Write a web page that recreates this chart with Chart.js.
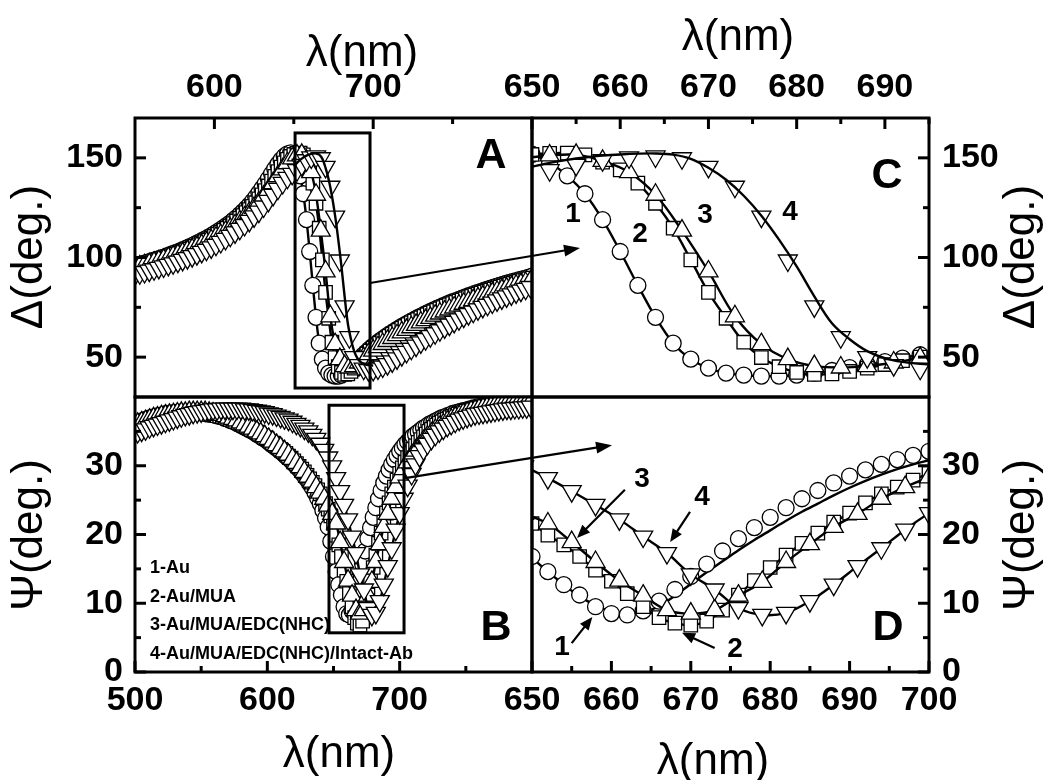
<!DOCTYPE html>
<html>
<head>
<meta charset="utf-8">
<title>SPR ellipsometry spectra: Δ and Ψ vs wavelength</title>
<script src="https://cdn.jsdelivr.net/npm/chart.js@4.4.1/dist/chart.umd.min.js"></script>
<style>
  html, body { margin: 0; padding: 0; background: #fff; }
  #stage { position: relative; width: 1052px; height: 780px; overflow: hidden; background: #fff; }
  #stage canvas { position: absolute; left: 0; top: 0; }
</style>
</head>
<body>
<div id="stage">
  <canvas id="panelA" width="1052" height="780"></canvas>
  <canvas id="panelC" width="1052" height="780"></canvas>
  <canvas id="panelB" width="1052" height="780"></canvas>
  <canvas id="panelD" width="1052" height="780"></canvas>
</div>
<script>
// ---------------------------------------------------------------------------
// Samples
const seriesNames = ['1-Au', '2-Au/MUA', '3-Au/MUA/EDC(NHC)', '4-Au/MUA/EDC(NHC)/Intact-Ab'];

// Wavelength grids (nm): samples 1 and 2 every 2 nm, samples 3 and 4 every 3 nm
const deltaStartEven = 550, deltaStartTri = 550;
const psiStartEven = 500, psiStartTri = 502;
const stepEven = 2, stepTri = 3;
const fitStart = 650, fitStep = 2;

// Delta (deg), sample 1, 550..800 nm
const delta1 = [
  96.0, 96.4, 96.8, 97.2, 97.7, 98.2, 98.7, 99.2, 99.7, 100.2,
  100.8, 101.4, 102.0, 102.6, 103.2, 103.9, 104.6, 105.3, 106.0, 106.8,
  107.6, 108.4, 109.2, 110.1, 111.0, 112.0, 113.0, 114.0, 115.1, 116.2,
  117.4, 118.7, 120.0, 121.5, 123.0, 124.6, 126.3, 128.2, 130.2, 132.4,
  134.7, 137.0, 139.5, 142.0, 144.5, 146.8, 149.0, 150.8, 152.0, 152.5,
  151.8, 147.5, 141.0, 132.0, 119.0, 103.0, 86.0, 70.0, 57.0, 49.0,
  44.5, 42.0, 41.0, 40.5, 40.5, 41.0, 42.0, 43.3, 44.7, 46.2,
  47.8, 49.5, 51.2, 52.7, 54.2, 55.5, 56.8, 58.0, 59.2, 60.3,
  61.4, 62.4, 63.4, 64.4, 65.4, 66.3, 67.2, 68.1, 69.0, 69.8,
  70.6, 71.4, 72.2, 73.0, 73.7, 74.4, 75.1, 75.8, 76.5, 77.2,
  77.8, 78.4, 79.0, 79.6, 80.2, 80.8, 81.4, 82.0, 82.5, 83.0,
  83.6, 84.1, 84.6, 85.1, 85.6, 86.1, 86.6, 87.1, 87.5, 88.0,
  88.4, 88.9, 89.3, 89.7, 90.2, 90.6
];
// Delta (deg), sample 2, 550..800 nm
const delta2 = [
  95.2, 95.6, 96.0, 96.4, 96.8, 97.3, 97.8, 98.3, 98.8, 99.3,
  99.8, 100.4, 101.0, 101.6, 102.2, 102.8, 103.5, 104.2, 104.9, 105.6,
  106.4, 107.2, 108.0, 108.8, 109.7, 110.6, 111.6, 112.6, 113.6, 114.7,
  115.8, 117.0, 118.3, 119.6, 121.0, 122.5, 124.0, 125.7, 127.5, 129.4,
  131.4, 133.6, 135.9, 138.3, 140.7, 143.1, 145.4, 147.5, 149.3, 150.7,
  151.7, 152.3, 152.4, 151.5, 147.8, 144.0, 137.3, 127.2, 114.7, 98.8,
  82.5, 69.5, 57.5, 49.8, 45.2, 42.3, 41.3, 41.6, 42.8, 44.5,
  46.3, 48.2, 50.0, 51.6, 53.1, 54.5, 55.8, 57.0, 58.2, 59.3,
  60.4, 61.5, 62.5, 63.5, 64.5, 65.4, 66.3, 67.2, 68.1, 68.9,
  69.7, 70.5, 71.3, 72.1, 72.8, 73.5, 74.2, 74.9, 75.6, 76.3,
  76.9, 77.5, 78.1, 78.7, 79.3, 79.9, 80.5, 81.1, 81.6, 82.1,
  82.7, 83.2, 83.7, 84.2, 84.7, 85.2, 85.7, 86.2, 86.6, 87.1,
  87.5, 88.0, 88.4, 88.8, 89.3, 89.7
];
// Delta (deg), sample 3, 550..799 nm
const delta3 = [
  94.9, 95.5, 96.1, 96.7, 97.4, 98.1, 98.8, 99.6, 100.4, 101.2,
  102.1, 103.1, 104.1, 105.1, 106.2, 107.4, 108.6, 109.9, 111.3, 112.8,
  114.4, 116.2, 118.1, 120.1, 122.4, 124.9, 127.6, 130.6, 133.8, 137.3,
  140.8, 144.2, 147.3, 149.7, 151.2, 151.5, 148.5, 142.8, 131.5, 113.5,
  93.0, 70.5, 56.5, 49.0, 45.5, 44.8, 45.5, 47.3, 49.5, 51.5,
  53.3, 55.0, 56.6, 58.1, 59.6, 61.0, 62.4, 63.7, 65.0, 66.2,
  67.4, 68.6, 69.7, 70.8, 71.9, 72.9, 73.9, 74.9, 75.9, 76.8,
  77.7, 78.6, 79.5, 80.4, 81.2, 82.0, 82.8, 83.6, 84.4, 85.1,
  85.8, 86.5, 87.2, 87.9
];
// Delta (deg), sample 4, 550..799 nm
const delta4 = [
  91.5, 92.1, 92.7, 93.4, 94.1, 94.8, 95.5, 96.3, 97.1, 97.9,
  98.8, 99.7, 100.7, 101.7, 102.8, 103.9, 105.1, 106.4, 107.8, 109.3,
  110.9, 112.6, 114.4, 116.3, 118.4, 120.6, 123.0, 125.6, 128.4, 131.4,
  134.5, 137.4, 140.0, 142.0, 143.8, 146.5, 148.8, 150.2, 150.7, 149.8,
  145.5, 135.5, 120.5, 98.5, 75.5, 60.0, 50.0, 46.0, 44.2, 43.5,
  43.6, 44.3, 45.3, 46.5, 47.9, 49.4, 51.0, 52.6, 54.2, 55.8,
  57.4, 59.0, 60.5, 62.0, 63.5, 64.9, 66.3, 67.7, 69.0, 70.3,
  71.6, 72.8, 74.0, 75.2, 76.3, 77.4, 78.5, 79.5, 80.5, 81.5,
  82.5, 83.4, 84.3, 85.2
];
// Fitted Delta (deg), sample 4, 650..700 nm
const fitDelta4 = [
  145.6, 147.5, 149.0, 150.2, 151.1, 151.7, 152.1, 152.2, 151.6, 149.5,
  145.0, 139.0, 131.0, 121.0, 109.0, 95.5, 80.5, 67.0, 59.0, 53.0,
  49.5, 47.6, 46.6, 46.1, 45.9, 45.8
];

// Psi (deg), sample 1, 500..800 nm
const psi1 = [
  36.0, 36.2, 36.4, 36.6, 36.7, 36.9, 37.0, 37.1, 37.2, 37.3,
  37.4, 37.5, 37.6, 37.6, 37.7, 37.7, 37.8, 37.8, 37.8, 37.8,
  37.8, 37.8, 37.8, 37.8, 37.8, 37.7, 37.7, 37.6, 37.5, 37.5,
  37.4, 37.3, 37.2, 37.1, 36.9, 36.8, 36.6, 36.5, 36.3, 36.1,
  35.9, 35.7, 35.5, 35.3, 35.1, 34.9, 34.6, 34.4, 34.1, 33.9,
  33.6, 33.3, 33.0, 32.7, 32.4, 32.1, 31.8, 31.4, 31.1, 30.7,
  30.3, 29.9, 29.5, 29.0, 28.5, 28.0, 27.4, 26.8, 26.1, 25.3,
  24.5, 23.5, 22.4, 21.1, 19.0, 16.8, 14.6, 12.7, 11.2, 9.5,
  8.5, 8.3, 8.9, 10.3, 12.0, 13.9, 15.7, 17.6, 19.4, 21.0,
  22.5, 23.9, 25.2, 26.4, 27.5, 28.5, 29.4, 30.2, 30.9, 31.5,
  32.1, 32.6, 33.1, 33.5, 33.9, 34.3, 34.6, 34.9, 35.2, 35.5,
  35.7, 36.0, 36.2, 36.4, 36.6, 36.8, 37.0, 37.1, 37.3, 37.4,
  37.6, 37.7, 37.8, 37.9, 38.0, 38.1, 38.2, 38.3, 38.4, 38.5,
  38.6, 38.6, 38.7, 38.8, 38.8, 38.9, 38.9, 39.0, 39.0, 39.1,
  39.1, 39.2, 39.2, 39.2, 39.3, 39.3, 39.3, 39.4, 39.4, 39.4,
  39.5
];
// Psi (deg), sample 2, 500..800 nm
const psi2 = [
  35.8, 36.0, 36.2, 36.4, 36.5, 36.7, 36.8, 36.9, 37.0, 37.1,
  37.2, 37.3, 37.4, 37.5, 37.5, 37.6, 37.6, 37.7, 37.7, 37.7,
  37.7, 37.7, 37.7, 37.7, 37.7, 37.7, 37.6, 37.6, 37.5, 37.5,
  37.4, 37.3, 37.2, 37.1, 37.0, 36.9, 36.7, 36.6, 36.4, 36.3,
  36.1, 35.9, 35.7, 35.5, 35.3, 35.1, 34.9, 34.6, 34.4, 34.1,
  33.9, 33.6, 33.3, 33.0, 32.7, 32.4, 32.1, 31.8, 31.4, 31.1,
  30.7, 30.3, 29.9, 29.5, 29.1, 28.6, 28.1, 27.6, 27.1, 26.5,
  25.9, 25.2, 24.5, 23.7, 22.7, 21.6, 19.9, 18.5, 16.8, 14.8,
  13.2, 11.4, 9.5, 7.9, 7.1, 6.8, 7.4, 9.0, 11.2, 13.3,
  15.2, 17.0, 18.7, 20.2, 21.8, 23.1, 24.6, 25.9, 26.9, 27.9,
  28.9, 29.7, 30.5, 31.2, 31.8, 32.4, 32.9, 33.4, 33.8, 34.2,
  34.6, 35.0, 35.3, 35.6, 35.9, 36.2, 36.4, 36.6, 36.8, 37.0,
  37.2, 37.3, 37.5, 37.6, 37.7, 37.9, 38.0, 38.1, 38.2, 38.3,
  38.4, 38.5, 38.5, 38.6, 38.7, 38.7, 38.8, 38.8, 38.9, 38.9,
  39.0, 39.0, 39.0, 39.1, 39.1, 39.1, 39.2, 39.2, 39.2, 39.3,
  39.3
];
// Psi (deg), sample 3, 502..799 nm
const psi3 = [
  36.1, 36.3, 36.5, 36.7, 36.9, 37.0, 37.2, 37.3, 37.4, 37.5,
  37.6, 37.7, 37.7, 37.8, 37.8, 37.8, 37.8, 37.8, 37.7, 37.6,
  37.5, 37.4, 37.2, 37.0, 36.8, 36.6, 36.3, 36.0, 35.7, 35.4,
  35.0, 34.7, 34.3, 33.9, 33.5, 33.0, 32.6, 32.1, 31.6, 31.0,
  30.4, 29.8, 29.1, 28.4, 27.7, 26.9, 26.1, 25.2, 24.2, 23.0,
  21.6, 18.9, 16.0, 13.3, 11.1, 9.0, 8.5, 9.0, 11.1, 13.1,
  16.0, 18.6, 21.1, 23.0, 25.2, 26.9, 28.3, 29.5, 30.5, 31.4,
  32.2, 32.9, 33.6, 34.2, 34.7, 35.2, 35.6, 36.0, 36.4, 36.7,
  37.0, 37.2, 37.5, 37.7, 37.9, 38.0, 38.2, 38.3, 38.4, 38.5,
  38.6, 38.7, 38.8, 38.9, 38.9, 39.0, 39.0, 39.1, 39.1, 39.2
];
// Psi (deg), sample 4, 502..799 nm
const psi4 = [
  34.9, 35.1, 35.3, 35.6, 35.8, 36.0, 36.2, 36.4, 36.6, 36.8,
  37.0, 37.2, 37.4, 37.5, 37.7, 37.8, 37.9, 38.0, 38.1, 38.2,
  38.2, 38.3, 38.3, 38.3, 38.3, 38.3, 38.3, 38.2, 38.2, 38.1,
  38.0, 37.9, 37.8, 37.6, 37.5, 37.3, 37.1, 36.9, 36.7, 36.4,
  36.1, 35.8, 35.4, 35.0, 34.5, 33.9, 33.2, 32.3, 31.2, 29.9,
  28.2, 26.3, 24.3, 22.2, 19.7, 17.3, 14.2, 12.0, 9.3, 8.3,
  8.6, 10.3, 12.7, 15.4, 18.0, 20.7, 23.1, 25.2, 27.1, 28.8,
  30.2, 31.4, 32.4, 33.2, 33.9, 34.5, 35.0, 35.4, 35.8, 36.1,
  36.4, 36.7, 36.9, 37.1, 37.3, 37.5, 37.6, 37.7, 37.8, 37.9,
  38.0, 38.1, 38.2, 38.3, 38.3, 38.4, 38.4, 38.5, 38.5, 38.6
];
// Fitted Psi (deg), sample 1, 650..700 nm
const fitPsi1 = [
  16.6, 14.6, 12.7, 11.0, 9.7, 8.8, 8.4, 8.6, 9.6, 11.1,
  12.8, 14.5, 16.1, 17.7, 19.2, 20.6, 22.0, 23.3, 24.5, 25.7,
  26.8, 27.8, 28.7, 29.5, 30.2, 30.8
];

// Axis ticks (labelled / minor)
const ticksLambdaWideTop = [600, 700], minorLambdaWideTop = [650, 750];
const ticksLambdaWideBottom = [500, 600, 700], minorLambdaWideBottom = [550, 650, 750];
const ticksLambdaZoomTop = [650, 660, 670, 680, 690], minorLambdaZoomTop = [655, 665, 675, 685, 695];
const ticksLambdaZoomBottom = [650, 660, 670, 680, 690, 700], minorLambdaZoomBottom = [655, 665, 675, 685, 695];
const ticksDelta = [50, 100, 150], minorDelta = [75, 125];
const ticksPsi = [0, 10, 20, 30], minorPsi = [5, 15, 25, 35];

// ---------------------------------------------------------------------------
const FONT = '"Liberation Sans", Arial, Helvetica, sans-serif';
const W = 1052, H = 780;
const FRAME = { left: 135, mid: 532, right: 929, top: 118, split: 397, bottom: 672 };
const charts = {};

const grid = (start, step, n) => Array.from({ length: n }, (_, i) => start + step * i);

const markerStyles = [
  { shape: 'circle', rot: 0, r: 8 },
  { shape: 'rect', rot: 0, r: 9.5 },
  { shape: 'triangle', rot: 0, r: 11 },
  { shape: 'triangle', rot: 180, r: 11 }
];

function seriesData(start, step, values) {
  const xs = grid(start, step, values.length);
  return xs.map((x, i) => ({ x, y: values[i] }));
}

const deltaSet = {
  samples: [
    seriesData(deltaStartEven, stepEven, delta1),
    seriesData(deltaStartEven, stepEven, delta2),
    seriesData(deltaStartTri, stepTri, delta3),
    seriesData(deltaStartTri, stepTri, delta4)
  ],
  fitted: { 3: seriesData(fitStart, fitStep, fitDelta4) },
  fitOnTop: true
};
const psiSet = {
  samples: [
    seriesData(psiStartEven, stepEven, psi1),
    seriesData(psiStartEven, stepEven, psi2),
    seriesData(psiStartTri, stepTri, psi3),
    seriesData(psiStartTri, stepTri, psi4)
  ],
  fitted: { 0: seriesData(fitStart, fitStep, fitPsi1) },
  fitOnTop: false
};

// Markers for each sample; a sample with a fitted curve gets that curve instead of a connecting line
function datasets(set) {
  const n = set.samples.length;
  const out = set.samples.map((data, i) => ({
    label: seriesNames[i],
    data,
    showLine: !set.fitted[i],
    borderColor: '#000',
    borderWidth: 2.4,
    tension: 0.35,
    pointStyle: markerStyles[i].shape,
    pointRotation: markerStyles[i].rot,
    pointRadius: markerStyles[i].r,
    pointHoverRadius: markerStyles[i].r,
    pointBackgroundColor: '#fff',
    pointBorderColor: '#000',
    pointBorderWidth: 1.3,
    order: n - i
  }));
  Object.keys(set.fitted).forEach(k => {
    const i = Number(k);
    out.push({
      label: seriesNames[i] + ' fit',
      data: set.fitted[k],
      showLine: true,
      borderColor: '#000',
      borderWidth: 2.4,
      tension: 0.35,
      pointRadius: 0,
      pointHoverRadius: 0,
      order: set.fitOnTop ? 0 : n - i + 0.5
    });
  });
  return out;
}

const tickFont = { family: FONT, size: 34, weight: 'bold', lineHeight: 1.2 };

function axis(pos, min, max, labelled, minor, size, pad) {
  const all = labelled.concat(minor).sort((a, b) => a - b);
  return {
    type: 'linear', position: pos, min, max,
    grid: { display: false, drawTicks: false },
    border: { display: false },
    afterBuildTicks: s => { s.ticks = all.map(v => ({ value: v })); },
    ticks: {
      autoSkip: false, maxRotation: 0, minRotation: 0, padding: pad, color: '#000', font: tickFont,
      callback: v => (labelled.includes(v) ? String(v) : '')
    },
    afterFit: s => {
      if (pos === 'top' || pos === 'bottom') s.height = size; else s.width = size;
      s.paddingLeft = 0; s.paddingRight = 0; s.paddingTop = 0; s.paddingBottom = 0;
    }
  };
}

function arrow(ctx, x1, y1, x2, y2, head, half) {
  const ang = Math.atan2(y2 - y1, x2 - x1);
  const c = Math.cos(ang), s = Math.sin(ang);
  ctx.beginPath();
  ctx.moveTo(x1, y1);
  ctx.lineTo(x2 - c * head * 0.7, y2 - s * head * 0.7);
  ctx.stroke();
  ctx.beginPath();
  ctx.moveTo(x2, y2);
  ctx.lineTo(x2 - c * head + s * half, y2 - s * head - c * half);
  ctx.lineTo(x2 - c * head - s * half, y2 - s * head + c * half);
  ctx.closePath();
  ctx.fill();
}

function titleText(ctx, text, x, y, rotate) {
  ctx.save();
  ctx.font = '44px ' + FONT;
  ctx.textAlign = 'center';
  ctx.textBaseline = 'middle';
  ctx.translate(x, y);
  if (rotate) ctx.rotate(-Math.PI / 2);
  ctx.fillText(text, 0, 0);
  ctx.restore();
}

// Frame, inward tick marks, titles and annotations of one panel
function decor(p) {
  return {
    id: 'decor' + p.name,
    afterDraw(chart) {
      const ctx = chart.ctx, a = chart.chartArea;
      const sx = chart.scales.x, sy = chart.scales.y;
      ctx.save();
      ctx.strokeStyle = '#000';
      ctx.fillStyle = '#000';
      ctx.lineWidth = 3;
      const mark = (s, v, len) => {
        const q = s.getPixelForValue(v);
        ctx.beginPath();
        if (s.position === 'top') { ctx.moveTo(q, a.top); ctx.lineTo(q, a.top + len); }
        else if (s.position === 'bottom') { ctx.moveTo(q, a.bottom); ctx.lineTo(q, a.bottom - len); }
        else if (s.position === 'left') { ctx.moveTo(a.left, q); ctx.lineTo(a.left + len, q); }
        else { ctx.moveTo(a.right, q); ctx.lineTo(a.right - len, q); }
        ctx.stroke();
      };
      p.xMajor.forEach(v => mark(sx, v, 11));
      p.xMinor.forEach(v => mark(sx, v, 6));
      p.yMajor.forEach(v => mark(sy, v, 11));
      p.yMinor.forEach(v => mark(sy, v, 6));
      ctx.strokeRect(a.left, a.top, a.right - a.left, a.bottom - a.top);

      p.titles.forEach(t => titleText(ctx, t.text, t.x, t.y, t.rotate));

      ctx.font = 'bold 43px ' + FONT;
      ctx.textAlign = 'center';
      ctx.textBaseline = 'alphabetic';
      ctx.fillText(p.name, a.right + p.letter[0], a.top + p.letter[1]);

      if (p.extra) p.extra(chart, ctx, a, sx, sy);
      ctx.restore();
    }
  };
}

function panel(canvasId, name, cfg) {
  const chart = new Chart(document.getElementById(canvasId), {
    type: 'scatter',
    data: { datasets: datasets(cfg.set) },
    options: {
      responsive: false,
      animation: false,
      devicePixelRatio: 1,
      events: [],
      layout: { padding: cfg.padding },
      plugins: { legend: { display: false }, tooltip: { enabled: false } },
      scales: { x: cfg.x, y: cfg.y }
    },
    plugins: [decor(Object.assign({ name }, cfg.decor))]
  });
  charts[name] = chart;
  return chart;
}

// ---------------------------------------------------------------------------
// A: Delta over the full spectrum (wavelength axis on top)
panel('panelA', 'A', {
  set: deltaSet,
  padding: { left: 0, top: 0, right: W - FRAME.mid, bottom: H - FRAME.split },
  x: axis('top', 550, 800, ticksLambdaWideTop, minorLambdaWideTop, FRAME.top, 10),
  y: axis('left', 30, 170, ticksDelta, minorDelta, FRAME.left, 12),
  decor: {
    xMajor: ticksLambdaWideTop, xMinor: minorLambdaWideTop, yMajor: ticksDelta, yMinor: minorDelta,
    titles: [
      { text: 'λ(nm)', x: 362, y: 54 },
      { text: 'Δ(deg.)', x: 30, y: 257, rotate: true }
    ],
    letter: [-41, 50],
    extra(chart, ctx, a, sx, sy) {
      // zoom window shown in C
      ctx.lineWidth = 3;
      const x0 = sx.getPixelForValue(650.8), x1 = sx.getPixelForValue(698);
      const y0 = sy.getPixelForValue(162.5), y1 = sy.getPixelForValue(34.5);
      ctx.strokeRect(x0, y0, x1 - x0, y1 - y0);
    }
  }
});

// C: Delta around the resonance (wavelength axis on top, Delta axis on right)
panel('panelC', 'C', {
  set: deltaSet,
  padding: { left: FRAME.mid, top: 0, right: 0, bottom: H - FRAME.split },
  x: axis('top', 650, 695, ticksLambdaZoomTop, minorLambdaZoomTop, FRAME.top, 10),
  y: axis('right', 30, 170, ticksDelta, minorDelta, W - FRAME.right, 13),
  decor: {
    xMajor: ticksLambdaZoomTop, xMinor: minorLambdaZoomTop, yMajor: ticksDelta, yMinor: minorDelta,
    titles: [
      { text: 'λ(nm)', x: 738, y: 38 },
      { text: 'Δ(deg.)', x: 1022, y: 257, rotate: true }
    ],
    letter: [-42, 70],
    extra(chart, ctx, a, sx, sy) {
      ctx.font = 'bold 28px ' + FONT;
      ctx.textAlign = 'center';
      ctx.textBaseline = 'alphabetic';
      [['1', 654.65, 117.8], ['2', 662.24, 107.8], ['3', 669.61, 117.3], ['4', 679.24, 118.8]]
        .forEach(([t, x, y]) => ctx.fillText(t, sx.getPixelForValue(x), sy.getPixelForValue(y)));
    }
  }
});

// B: Psi over the full spectrum
panel('panelB', 'B', {
  set: psiSet,
  padding: { left: 0, top: FRAME.split, right: W - FRAME.mid, bottom: 0 },
  x: axis('bottom', 500, 800, ticksLambdaWideBottom, minorLambdaWideBottom, H - FRAME.bottom, 8),
  y: axis('left', 0, 40, ticksPsi, minorPsi, FRAME.left, 12),
  decor: {
    xMajor: ticksLambdaWideBottom, xMinor: minorLambdaWideBottom, yMajor: ticksPsi, yMinor: minorPsi,
    titles: [
      { text: 'λ(nm)', x: 339, y: 755 },
      { text: 'Ψ(deg.)', x: 30, y: 535, rotate: true }
    ],
    letter: [-36, 243],
    extra(chart, ctx, a, sx, sy) {
      ctx.lineWidth = 3;
      const x0 = sx.getPixelForValue(646.6), x1 = sx.getPixelForValue(703.3);
      const y0 = sy.getPixelForValue(38.8), y1 = sy.getPixelForValue(5.7);
      ctx.strokeRect(x0, y0, x1 - x0, y1 - y0);
      ctx.font = 'bold 18px ' + FONT;
      ctx.textAlign = 'left';
      ctx.textBaseline = 'alphabetic';
      const base = [99, 70, 42, 13];
      seriesNames.forEach((n, i) => ctx.fillText(n, a.left + 15, a.bottom - base[i]));
    }
  }
});

// D: Psi around the resonance (Psi axis on right)
panel('panelD', 'D', {
  set: psiSet,
  padding: { left: FRAME.mid, top: FRAME.split, right: 0, bottom: 0 },
  x: axis('bottom', 650, 700, ticksLambdaZoomBottom, minorLambdaZoomBottom, H - FRAME.bottom, 8),
  y: axis('right', 0, 40, ticksPsi, minorPsi, W - FRAME.right, 13),
  decor: {
    xMajor: ticksLambdaZoomBottom, xMinor: minorLambdaZoomBottom, yMajor: ticksPsi, yMinor: minorPsi,
    titles: [
      { text: 'λ(nm)', x: 713, y: 762 },
      { text: 'Ψ(deg.)', x: 1022, y: 535, rotate: true }
    ],
    letter: [-41, 243],
    extra(chart, ctx, a, sx, sy) {
      ctx.font = 'bold 28px ' + FONT;
      ctx.textAlign = 'center';
      ctx.textBaseline = 'alphabetic';
      [['3', 663.85, 26.9], ['4', 671.41, 24.3], ['1', 653.78, 2.5], ['2', 675.57, 2.2]]
        .forEach(([t, x, y]) => ctx.fillText(t, sx.getPixelForValue(x), sy.getPixelForValue(y)));
      ctx.lineWidth = 2.2;
      [[661.7, 26.5, 655.67, 19.5], [669.9, 23.3, 667.4, 18.9], [655.0, 4.2, 657.6, 8.0], [673.0, 3.5, 668.9, 5.7]]
        .forEach(([x1, y1, x2, y2]) => arrow(ctx, sx.getPixelForValue(x1), sy.getPixelForValue(y1),
          sx.getPixelForValue(x2), sy.getPixelForValue(y2), 13, 5.5));

      // pointers from the zoom windows of A and B to panels C and D
      const A = charts.A.scales, C = charts.C.scales, B = charts.B.scales;
      ctx.lineWidth = 2.2;
      arrow(ctx, A.x.getPixelForValue(698), A.y.getPixelForValue(87.2),
        C.x.getPixelForValue(655.44), C.y.getPixelForValue(104.8), 16, 6);
      arrow(ctx, B.x.getPixelForValue(704), B.y.getPixelForValue(28.2),
        sx.getPixelForValue(660.08), sy.getPixelForValue(33.0), 16, 6);
    }
  }
});
</script>
</body>
</html>
